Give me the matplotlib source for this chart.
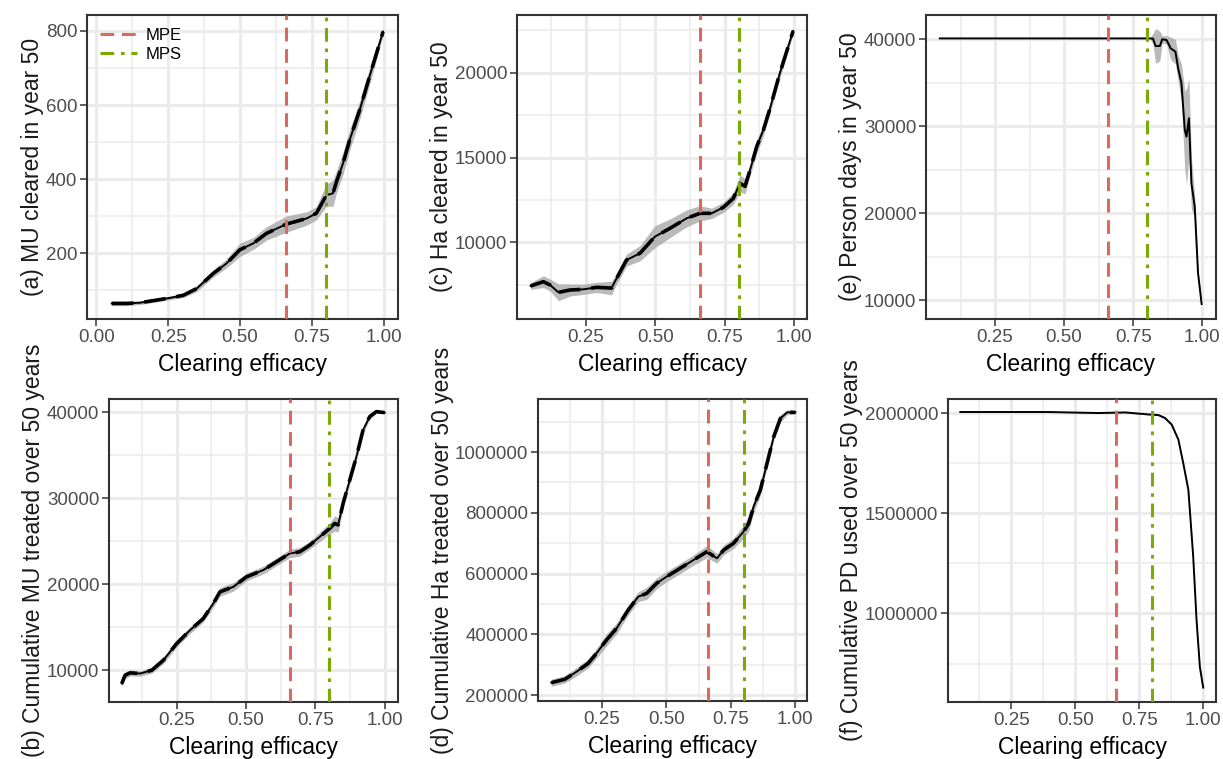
import matplotlib
matplotlib.use("Agg")
import matplotlib.pyplot as plt
from matplotlib.ticker import MultipleLocator, FixedLocator, FuncFormatter
import numpy as np

plt.rcParams['font.family'] = ['Liberation Sans', 'DejaVu Sans']

# ---------------- data ----------------
MPE = 0.66
MPS = 0.80

# (a) MU cleared in year 50
a_x = [0.054, 0.106, 0.153, 0.21, 0.257, 0.303, 0.349, 0.407, 0.453, 0.50, 0.546, 0.592, 0.661,
       0.731, 0.765, 0.80, 0.823, 0.835, 0.858, 0.881, 0.916, 0.95, 0.997]
a_y = [65, 65, 67, 74, 80, 87, 105, 146, 173, 210, 227, 254, 279, 294, 308, 357, 362, 393, 443,
       506, 587, 677, 798]
a_err = [6, 6, 5, 5, 5, 6, 8, 10, 12, 18, 16, 18, 22, 18, 18, 30, 35, 30, 30, 28, 25, 22, 10]

# (c) Ha cleared in year 50
c_x = [0.052, 0.098, 0.122, 0.152, 0.194, 0.242, 0.29, 0.343, 0.355, 0.397, 0.445, 0.499, 0.553,
       0.613, 0.661, 0.703, 0.745, 0.781, 0.805, 0.823, 0.841, 0.865, 0.889, 0.913, 0.948, 0.996]
c_y = [7424, 7680, 7483, 7050, 7188, 7227, 7345, 7300, 7680, 8957, 9350, 10333, 10823, 11413,
       11708, 11708, 12060, 12590, 13476, 13300, 14262, 15638, 16620, 17897, 19961, 22456]
c_err = [200, 350, 350, 500, 350, 300, 300, 400, 350, 350, 450, 650, 550, 500, 450, 300, 300,
         350, 500, 450, 350, 400, 350, 300, 300, 200]

# (e) Person days in year 50
e_x = [0.05, 0.30, 0.60, 0.81, 0.822, 0.831, 0.847, 0.855, 0.871, 0.886, 0.903, 0.913, 0.925,
       0.937, 0.943, 0.952, 0.961, 0.973, 0.985, 0.998]
e_y = [40100, 40100, 40100, 40100, 40080, 39230, 39230, 40000, 39920, 38960, 38580, 36660,
       34935, 29570, 28800, 30910, 23430, 20740, 13070, 9540]
e_err = [0, 0, 0, 0, 600, 2000, 1700, 400, 500, 1300, 1400, 1500, 2200, 4500, 5500, 4500, 3000,
         1200, 500, 200]

# (b) Cumulative MU treated over 50 years
b_x = [0.052, 0.064, 0.082, 0.118, 0.16, 0.202, 0.25, 0.298, 0.346, 0.382, 0.406, 0.454, 0.502,
       0.562, 0.61, 0.658, 0.694, 0.73, 0.766, 0.802, 0.82, 0.832, 0.85, 0.874, 0.898, 0.922,
       0.946, 0.97, 1.0]
b_y = [8456, 9425, 9700, 9620, 10000, 11170, 13110, 14660, 16020, 17770, 19120, 19700, 20870,
       21650, 22620, 23590, 23780, 24560, 25530, 26500, 27080, 26900, 29400, 32120, 34840, 37940,
       39500, 40080, 39960]
b_err = [400, 400, 350, 300, 350, 400, 400, 400, 400, 450, 500, 500, 450, 450, 450, 500, 500,
         450, 550, 650, 900, 800, 600, 500, 450, 400, 300, 150, 100]

# (d) Cumulative Ha treated over 50 years
d_x = [0.054, 0.106, 0.152, 0.197, 0.229, 0.268, 0.307, 0.352, 0.391, 0.424, 0.462, 0.501, 0.553,
       0.605, 0.657, 0.696, 0.722, 0.76, 0.799, 0.819, 0.838, 0.864, 0.89, 0.916, 0.942, 0.968,
       1.0]
d_y = [240600, 251600, 276800, 304200, 337200, 381100, 419500, 479800, 523700, 534700, 567600,
       589600, 617000, 644400, 671900, 649900, 677400, 699300, 737700, 765200, 820000, 874900,
       962700, 1050500, 1110800, 1130600, 1130600]
d_err = [12000, 12000, 14000, 15000, 16000, 20000, 18000, 16000, 16000, 20000, 18000, 17000,
         17000, 17000, 20000, 16000, 16000, 17000, 22000, 25000, 20000, 18000, 16000, 14000,
         12000, 8000, 5000]

# (f) Cumulative PD used over 50 years
f_x = [0.051, 0.396, 0.591, 0.695, 0.786, 0.825, 0.851, 0.877, 0.903, 0.922, 0.942, 0.961,
       0.974, 0.987, 1.0]
f_y = [2005000, 2005000, 2000000, 2003000, 1993000, 1990000, 1975000, 1942000, 1867000,
       1750000, 1617000, 1283000, 967000, 733000, 630000]
f_err = [1000, 1000, 1500, 2000, 3000, 4000, 6000, 8000, 8000, 8000, 8000, 8000, 6000, 5000, 4000]

# ---------------- layout ----------------
W, H = 1223, 759
fig = plt.figure(figsize=(W / 100, H / 100), dpi=100)


def box(x0, y0, x1, y1):
    return [x0 / W, 1 - y1 / H, (x1 - x0) / W, (y1 - y0) / H]


RED = "#D96A5D"
GREEN = "#7AAA06"
GRID = "#EBEBEB"
TICKC = "#4D4D4D"

panels = [
    dict(pos=box(87, 15, 398, 319), x=a_x, y=a_y, e=a_err, lab="(a) MU cleared in year 50",
         xlim=(-0.032, 1.049), ylim=(23, 843), ymaj=200, ymin=100,
         xt=[0.0, 0.25, 0.5, 0.75, 1.0], dashed=True, legend=True),
    dict(pos=box(517, 15, 807, 319), x=c_x, y=c_y, e=c_err, lab="(c) Ha cleared in year 50",
         xlim=(0.003, 1.046), ylim=(5478, 23402), ymaj=5000, ymin=2500,
         xt=[0.25, 0.5, 0.75, 1.0], dashed=True, legend=False),
    dict(pos=box(926, 15, 1216, 319), x=e_x, y=e_y, e=e_err, lab="(e) Person days in year 50",
         xlim=(0.0, 1.05), ylim=(7814, 42796), ymaj=10000, ymin=5000,
         xt=[0.25, 0.5, 0.75, 1.0], dashed=False, legend=False),
    dict(pos=box(109, 399, 398, 702), x=b_x, y=b_y, e=b_err,
         lab="(b) Cumulative MU treated over 50 years",
         xlim=(0.006, 1.048), ylim=(6310, 41548), ymaj=10000, ymin=5000,
         xt=[0.25, 0.5, 0.75, 1.0], dashed=True, legend=False),
    dict(pos=box(538, 399, 807, 701), x=d_x, y=d_y, e=d_err,
         lab="(d) Cumulative Ha treated over 50 years",
         xlim=(0.0024, 1.045), ylim=(180250, 1174490), ymaj=200000, ymin=100000,
         xt=[0.25, 0.5, 0.75, 1.0], dashed=True, legend=False),
    dict(pos=box(948, 399, 1216, 702), x=f_x, y=f_y, e=f_err,
         lab="(f) Cumulative PD used over 50 years",
         xlim=(0.003, 1.05), ylim=(558000, 2070000), ymaj=500000, ymin=250000,
         xt=[0.25, 0.5, 0.75, 1.0], dashed=False, legend=False),
]

for p in panels:
    ax = fig.add_axes(p["pos"])
    x = np.array(p["x"])
    y = np.array(p["y"])
    e = np.array(p["e"])
    ax.set_xlim(*p["xlim"])
    ax.set_ylim(*p["ylim"])
    # grid
    ax.set_axisbelow(True)
    ax.xaxis.set_major_locator(FixedLocator(p["xt"]))
    ax.xaxis.set_minor_locator(MultipleLocator(0.125))
    ax.yaxis.set_major_locator(MultipleLocator(p["ymaj"]))
    ax.yaxis.set_minor_locator(MultipleLocator(p["ymin"]))
    ax.grid(which="major", color=GRID, linewidth=2.2)
    ax.grid(which="minor", color=GRID, linewidth=1.1)
    ax.tick_params(which="minor", length=0)
    ax.tick_params(which="major", length=5, width=1.1, color="#333333",
                   labelsize=13.5, labelcolor=TICKC, pad=2)
    ax.set_xticklabels([f"{v:.2f}" for v in p["xt"]])
    ax.yaxis.set_major_formatter(FuncFormatter(lambda v, _: f"{int(round(v))}"))
    for s in ax.spines.values():
        s.set_color("#333333")
        s.set_linewidth(1.5)
    # ribbon + lines
    ax.fill_between(x, y - e, y + e, color="#A3A3A3", alpha=0.75, linewidth=0, zorder=2)
    ax.plot(x, y, color="black", linewidth=1.4, zorder=3)
    if p["dashed"]:
        ax.plot(x, y, color="black", linewidth=2.6, linestyle=(0, (6, 3)), zorder=3)
    ax.axvline(MPE, color=RED, linestyle=(0, (4.5, 2.5)), linewidth=2.2, zorder=4, label="MPE")
    ax.axvline(MPS, color=GREEN, linestyle=(0, (4.5, 2.2, 1.2, 2.2)), linewidth=2.2, zorder=4,
               label="MPS")
    ax.set_xlabel("Clearing efficacy", fontsize=16.5, color="black", labelpad=5)
    ax.set_ylabel(p["lab"], fontsize=16.5, color="#1a1a1a", labelpad=1)
    if p["legend"]:
        ax.legend(loc="upper left", frameon=False, fontsize=12, handlelength=2.2,
                  borderaxespad=0.4, handletextpad=0.5, labelspacing=0.2,
                  bbox_to_anchor=(0.0, 1.0))

fig.savefig("out.png", dpi=100)
